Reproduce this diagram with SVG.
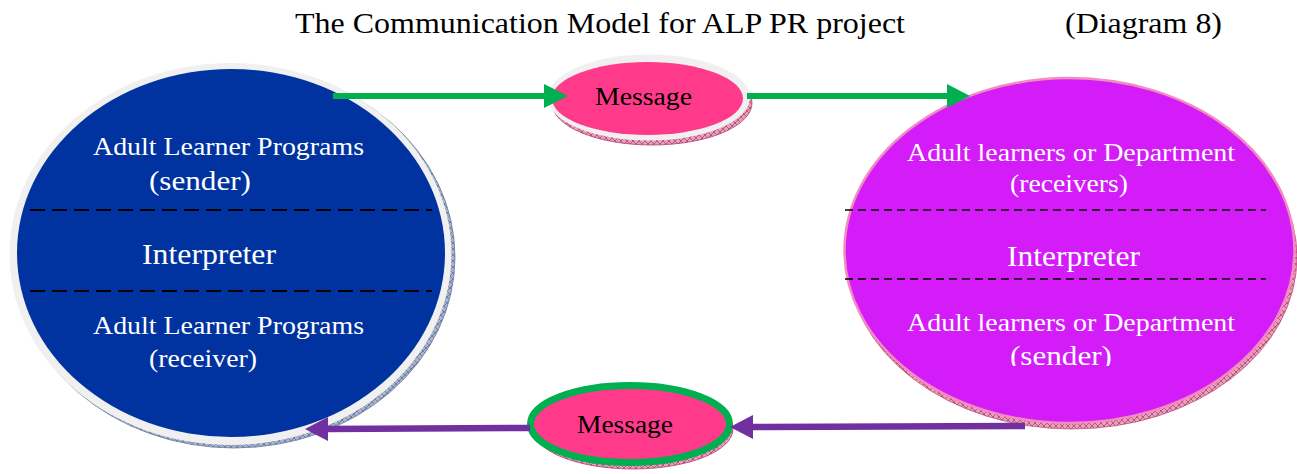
<svg xmlns="http://www.w3.org/2000/svg" width="1297" height="474" viewBox="0 0 1297 474">
<style>
.w{fill:#ffffff}
.k{fill:#000000}
.dash{stroke:#000;stroke-width:2;stroke-dasharray:15 7}
.dash2{stroke:#000;stroke-width:1.5;stroke-dasharray:8 5}
.g{stroke:#00b050;stroke-width:6;fill:none}
.p{stroke:#7030a0;stroke-width:6.5;fill:none}
</style>
<defs>
<pattern id="hb" width="6" height="6" patternUnits="userSpaceOnUse">
<rect width="6" height="6" fill="#aab4cc"/>
<path d="M0 0L6 6M6 0L0 6" stroke="#4a5a86" stroke-width="0.6"/>
</pattern>
<pattern id="hp" width="6" height="6" patternUnits="userSpaceOnUse">
<rect width="6" height="6" fill="#e6a0bc"/>
<path d="M0 0L6 6M6 0L0 6" stroke="#a02050" stroke-width="0.6"/>
</pattern>
<clipPath id="clipR"><rect x="800" y="300" width="497" height="66"/></clipPath>
</defs>
<g font-family="Liberation Serif, Times New Roman, Times, serif">
<g id="title">
<text x="295" y="33" font-size="29" class="k" textLength="610" lengthAdjust="spacingAndGlyphs">The Communication Model for ALP PR project</text>
<text x="1065" y="33" font-size="29" class="k" textLength="157" lengthAdjust="spacingAndGlyphs">(Diagram 8)</text>
</g>
<g id="sender-node">
<ellipse cx="234" cy="257" rx="221" ry="191" fill="url(#hb)" stroke="#6a78a0" stroke-width="0.8"/>
<ellipse cx="230.5" cy="254" rx="221" ry="191" fill="#f0f0f0"/>
<ellipse cx="231" cy="253" rx="214" ry="184" fill="#0033a0"/>
<line x1="30" y1="210" x2="432" y2="210" class="dash"/>
<line x1="30" y1="291" x2="432" y2="291" class="dash"/>
<text x="93" y="155" font-size="25" class="w" textLength="271" lengthAdjust="spacingAndGlyphs">Adult Learner Programs</text>
<text x="149" y="190" font-size="28" class="w" textLength="102" lengthAdjust="spacingAndGlyphs">(sender)</text>
<text x="142" y="264" font-size="30" class="w" textLength="134" lengthAdjust="spacingAndGlyphs">Interpreter</text>
<text x="93" y="334" font-size="25" class="w" textLength="271" lengthAdjust="spacingAndGlyphs">Adult Learner Programs</text>
<text x="149" y="367" font-size="26" class="w" textLength="108" lengthAdjust="spacingAndGlyphs">(receiver)</text>
</g>
<g id="receiver-node">
<ellipse cx="1072" cy="257" rx="225" ry="172" fill="url(#hp)" stroke="#c05080" stroke-width="0.8"/>
<ellipse cx="1069.5" cy="250.5" rx="225" ry="172.5" fill="#d41cf8" stroke="#f28cc0" stroke-width="2.5"/>
<line x1="845" y1="210" x2="1266" y2="210" class="dash2"/>
<line x1="845" y1="279" x2="1266" y2="279" class="dash2"/>
<text x="907" y="161" font-size="25" class="w" textLength="328" lengthAdjust="spacingAndGlyphs">Adult learners or Department</text>
<text x="1010" y="192" font-size="25" class="w" textLength="118" lengthAdjust="spacingAndGlyphs">(receivers)</text>
<text x="1007" y="266" font-size="30" class="w" textLength="133" lengthAdjust="spacingAndGlyphs">Interpreter</text>
<text x="907" y="331" font-size="25" class="w" textLength="328" lengthAdjust="spacingAndGlyphs">Adult learners or Department</text>
<text x="1010" y="365" font-size="28" class="w" textLength="102" lengthAdjust="spacingAndGlyphs" clip-path="url(#clipR)">(sender)</text>
</g>
<g id="message-top">
<ellipse cx="652" cy="103" rx="100" ry="42" fill="url(#hp)" stroke="#b04070" stroke-width="0.8"/>
<ellipse cx="649" cy="97.5" rx="101" ry="43" fill="#f0f0f0"/>
<ellipse cx="647.5" cy="98.5" rx="95.5" ry="36.5" fill="#ff3a8a"/>
<text x="595" y="105" font-size="25" class="k" textLength="97" lengthAdjust="spacingAndGlyphs">Message</text>
</g>
<g id="message-bottom">
<ellipse cx="633" cy="429" rx="100" ry="40" fill="url(#hp)" stroke="#b04070" stroke-width="0.8"/>
<ellipse cx="630" cy="424" rx="99.5" ry="38.5" fill="#ff3a8a" stroke="#00b050" stroke-width="7"/>
<text x="577" y="433" font-size="25" class="k" textLength="96" lengthAdjust="spacingAndGlyphs">Message</text>
</g>
</g>
<g id="connectors">
<line x1="333" y1="96" x2="546" y2="96" class="g"/>
<polygon points="544,84 568,96 544,108" fill="#00b050"/>
<line x1="747" y1="96" x2="949" y2="96" class="g"/>
<polygon points="947,84 970,96 947,108" fill="#00b050"/>
<line x1="1025" y1="426" x2="751" y2="427" class="p"/>
<polygon points="753,415 730,427 753,439" fill="#7030a0"/>
<line x1="530" y1="428" x2="326" y2="429" class="p"/>
<polygon points="328,417 305,429 328,441" fill="#7030a0"/>
</g>
</svg>
